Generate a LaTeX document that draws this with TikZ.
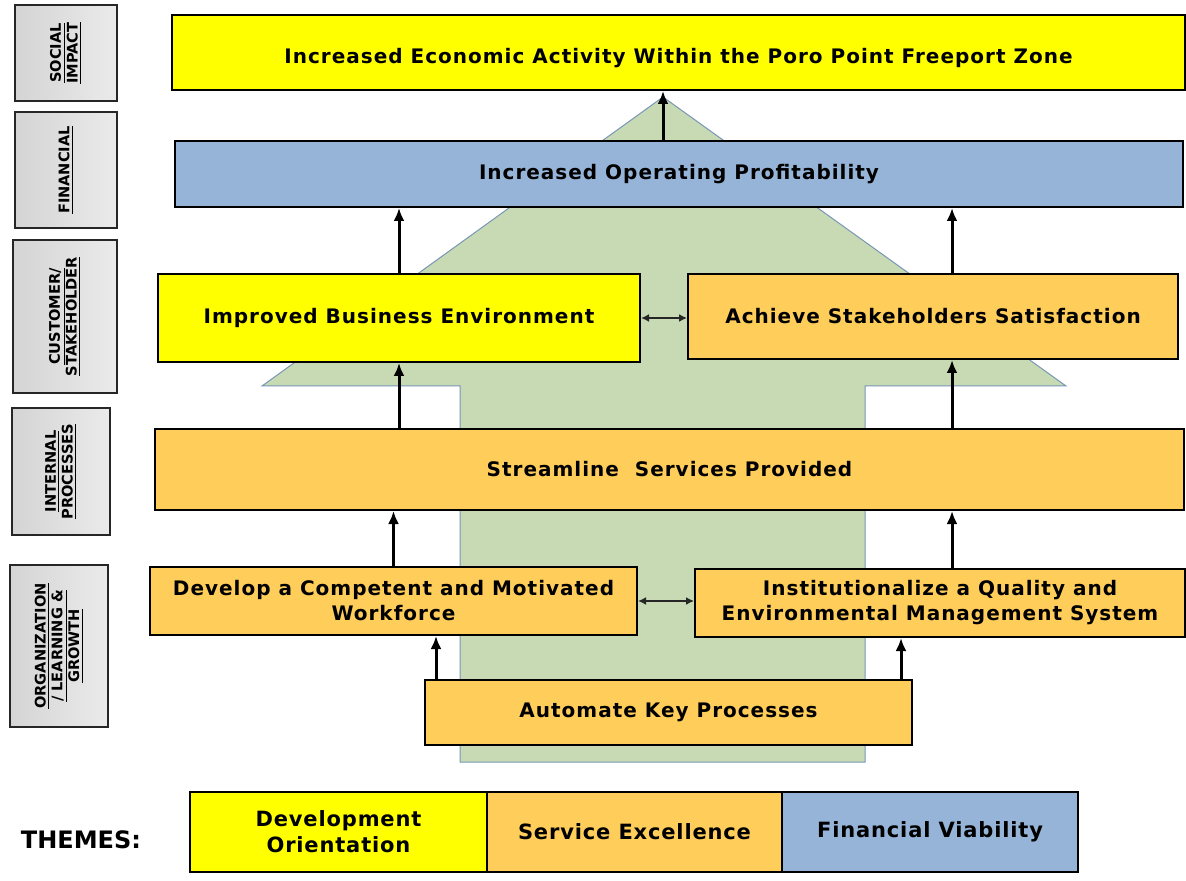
\documentclass[tikz,border=0pt]{standalone}
\usepackage{fontspec}
\setmainfont{DejaVu Sans}
\usetikzlibrary{arrows.meta,calc}
\definecolor{boxyellow}{RGB}{255,255,0}
\definecolor{boxorange}{RGB}{255,205,90}
\definecolor{boxblue}{RGB}{150,180,216}
\definecolor{arrowgreen}{RGB}{200,218,180}
\definecolor{arrowedge}{RGB}{120,150,180}
\definecolor{labelgray}{RGB}{212,212,212}
\begin{document}
\begin{tikzpicture}[x=0.5pt,y=-0.5pt,
  box/.style={draw=black, line width=1pt, inner sep=0pt, align=center,
    font=\bfseries\fontsize{10}{12.5}\selectfont\addfontfeature{LetterSpace=5}},
  ybox/.style={box, fill=boxyellow},
  obox/.style={box, fill=boxorange},
  bbox/.style={box, fill=boxblue},
  lblbox/.style={draw=black!85, line width=1pt, inner sep=0pt,
    left color=labelgray, right color=black!8},
  lbltext/.style={rotate=90, align=center, inner sep=0pt,
    font=\bfseries\fontsize{7.3}{8.4}\selectfont},
  themebox/.style={draw=black, line width=1pt, inner sep=0pt, align=center,
    minimum height=40pt, font=\bfseries\fontsize{10.5}{13}\selectfont\addfontfeature{LetterSpace=4}},
  arr/.style={draw=black, line width=1.5pt, -{Latex[length=6.5pt,width=5.5pt]}},
  darr/.style={draw=black!85, line width=1pt, {Latex[length=4pt,width=4pt]}-{Latex[length=4pt,width=4pt]}}
]
\useasboundingbox (0,0) rectangle (1186,881);

% big green arrow
\fill[arrowgreen, draw=arrowedge, line width=0.5pt]
  (663,97) -- (1066,386) -- (865,386) -- (865,762) -- (460,762) -- (460,386) -- (262,386) -- cycle;

% perspective labels
\node[lblbox, minimum width=51pt, minimum height=48pt] (lsocial) at (66,53) {};
\node[lbltext] (tsocial) at (lsocial.center) {\underline{SOCIAL}\\\underline{IMPACT}};
\node[lblbox, minimum width=51pt, minimum height=58pt] (lfin) at (66,170) {};
\node[lbltext] (tfin) at (lfin.center) {\underline{FINANCIAL}};
\node[lblbox, minimum width=52pt, minimum height=76.5pt] (lcust) at (65,316.5) {};
\node[lbltext] (tcust) at (lcust.center) {\underline{CUSTOMER/}\\\underline{STAKEHOLDER}};
\node[lblbox, minimum width=49pt, minimum height=63.5pt] (lint) at (61,471.5) {};
\node[lbltext] (tint) at (lint.center) {\underline{INTERNAL}\\\underline{PROCESSES}};
\node[lblbox, minimum width=49pt, minimum height=81pt] (lorg) at (59,646) {};
\node[lbltext] (torg) at (lorg.center) {\underline{ORGANIZATION}\\\underline{/ LEARNING \&}\\\underline{GROWTH}};

% objective boxes
\node[ybox, minimum width=506.5pt, minimum height=37.5pt, text height=13.5pt] (econ) at (678.5,52.5)
  {Increased Economic Activity Within the Poro Point Freeport Zone};
\node[bbox, minimum width=504pt, minimum height=33pt] (profit) at (679,174)
  {Increased Operating Profitability};
\node[ybox, minimum width=241pt, minimum height=44pt] (business) at (399,318)
  {Improved Business Environment};
\node[obox, minimum width=245pt, minimum height=42.5pt] (stake) at (933,316.5)
  {Achieve Stakeholders Satisfaction};
\node[obox, minimum width=514.5pt, minimum height=40.5pt] (stream) at (669.5,469.5)
  {Streamline\ \ Services Provided};
\node[obox, minimum width=243.5pt, minimum height=34pt] (develop) at (393.5,601)
  {Develop a Competent and Motivated\\Workforce};
\node[obox, minimum width=245pt, minimum height=34pt] (inst) at (940,603)
  {Institutionalize a Quality and\\Environmental Management System};
\node[obox, minimum width=243.5pt, minimum height=32.5pt] (automate) at (668.5,712.5)
  {Automate Key Processes};

% connectors
\draw[arr] ([xshift=-8pt]profit.north) -- ([xshift=-8pt]profit.north |- econ.south);
\draw[arr] (business.north) -- (business.north |- profit.south);
\draw[arr] ([xshift=9.5pt]stake.north) -- ([xshift=9.5pt]stake.north |- profit.south);
\draw[arr] (business.south |- stream.north) -- (business.south);
\draw[arr] ([xshift=9.5pt]stake.south |- stream.north) -- ([xshift=9.5pt]stake.south);
\draw[arr] (develop.north) -- (develop.north |- stream.south);
\draw[arr] ([xshift=6pt]inst.north) -- ([xshift=6pt]inst.north |- stream.south);
\draw[arr] ([xshift=6pt]automate.north west) -- ([xshift=6pt]automate.north west |- develop.south);
\draw[arr] ([xshift=-6pt]automate.north east) -- ([xshift=-6pt]automate.north east |- inst.south);
\draw[darr] (business.east) -- (business.east -| stake.west);
\draw[darr] (develop.east) -- (develop.east -| inst.west);

% themes
\node[font=\bfseries\fontsize{12}{14}\selectfont, inner sep=0pt] (themes) at (81,840) {THEMES:};
\node[themebox, fill=boxyellow, minimum width=148.5pt] (tdev) at (338.5,832) {Development\\Orientation};
\node[themebox, fill=boxorange, minimum width=147.5pt] (tserv) at (634.5,832) {Service Excellence};
\node[themebox, fill=boxblue, minimum width=148pt] (tfinv) at (930,832) {Financial Viability};
\end{tikzpicture}
\end{document}
